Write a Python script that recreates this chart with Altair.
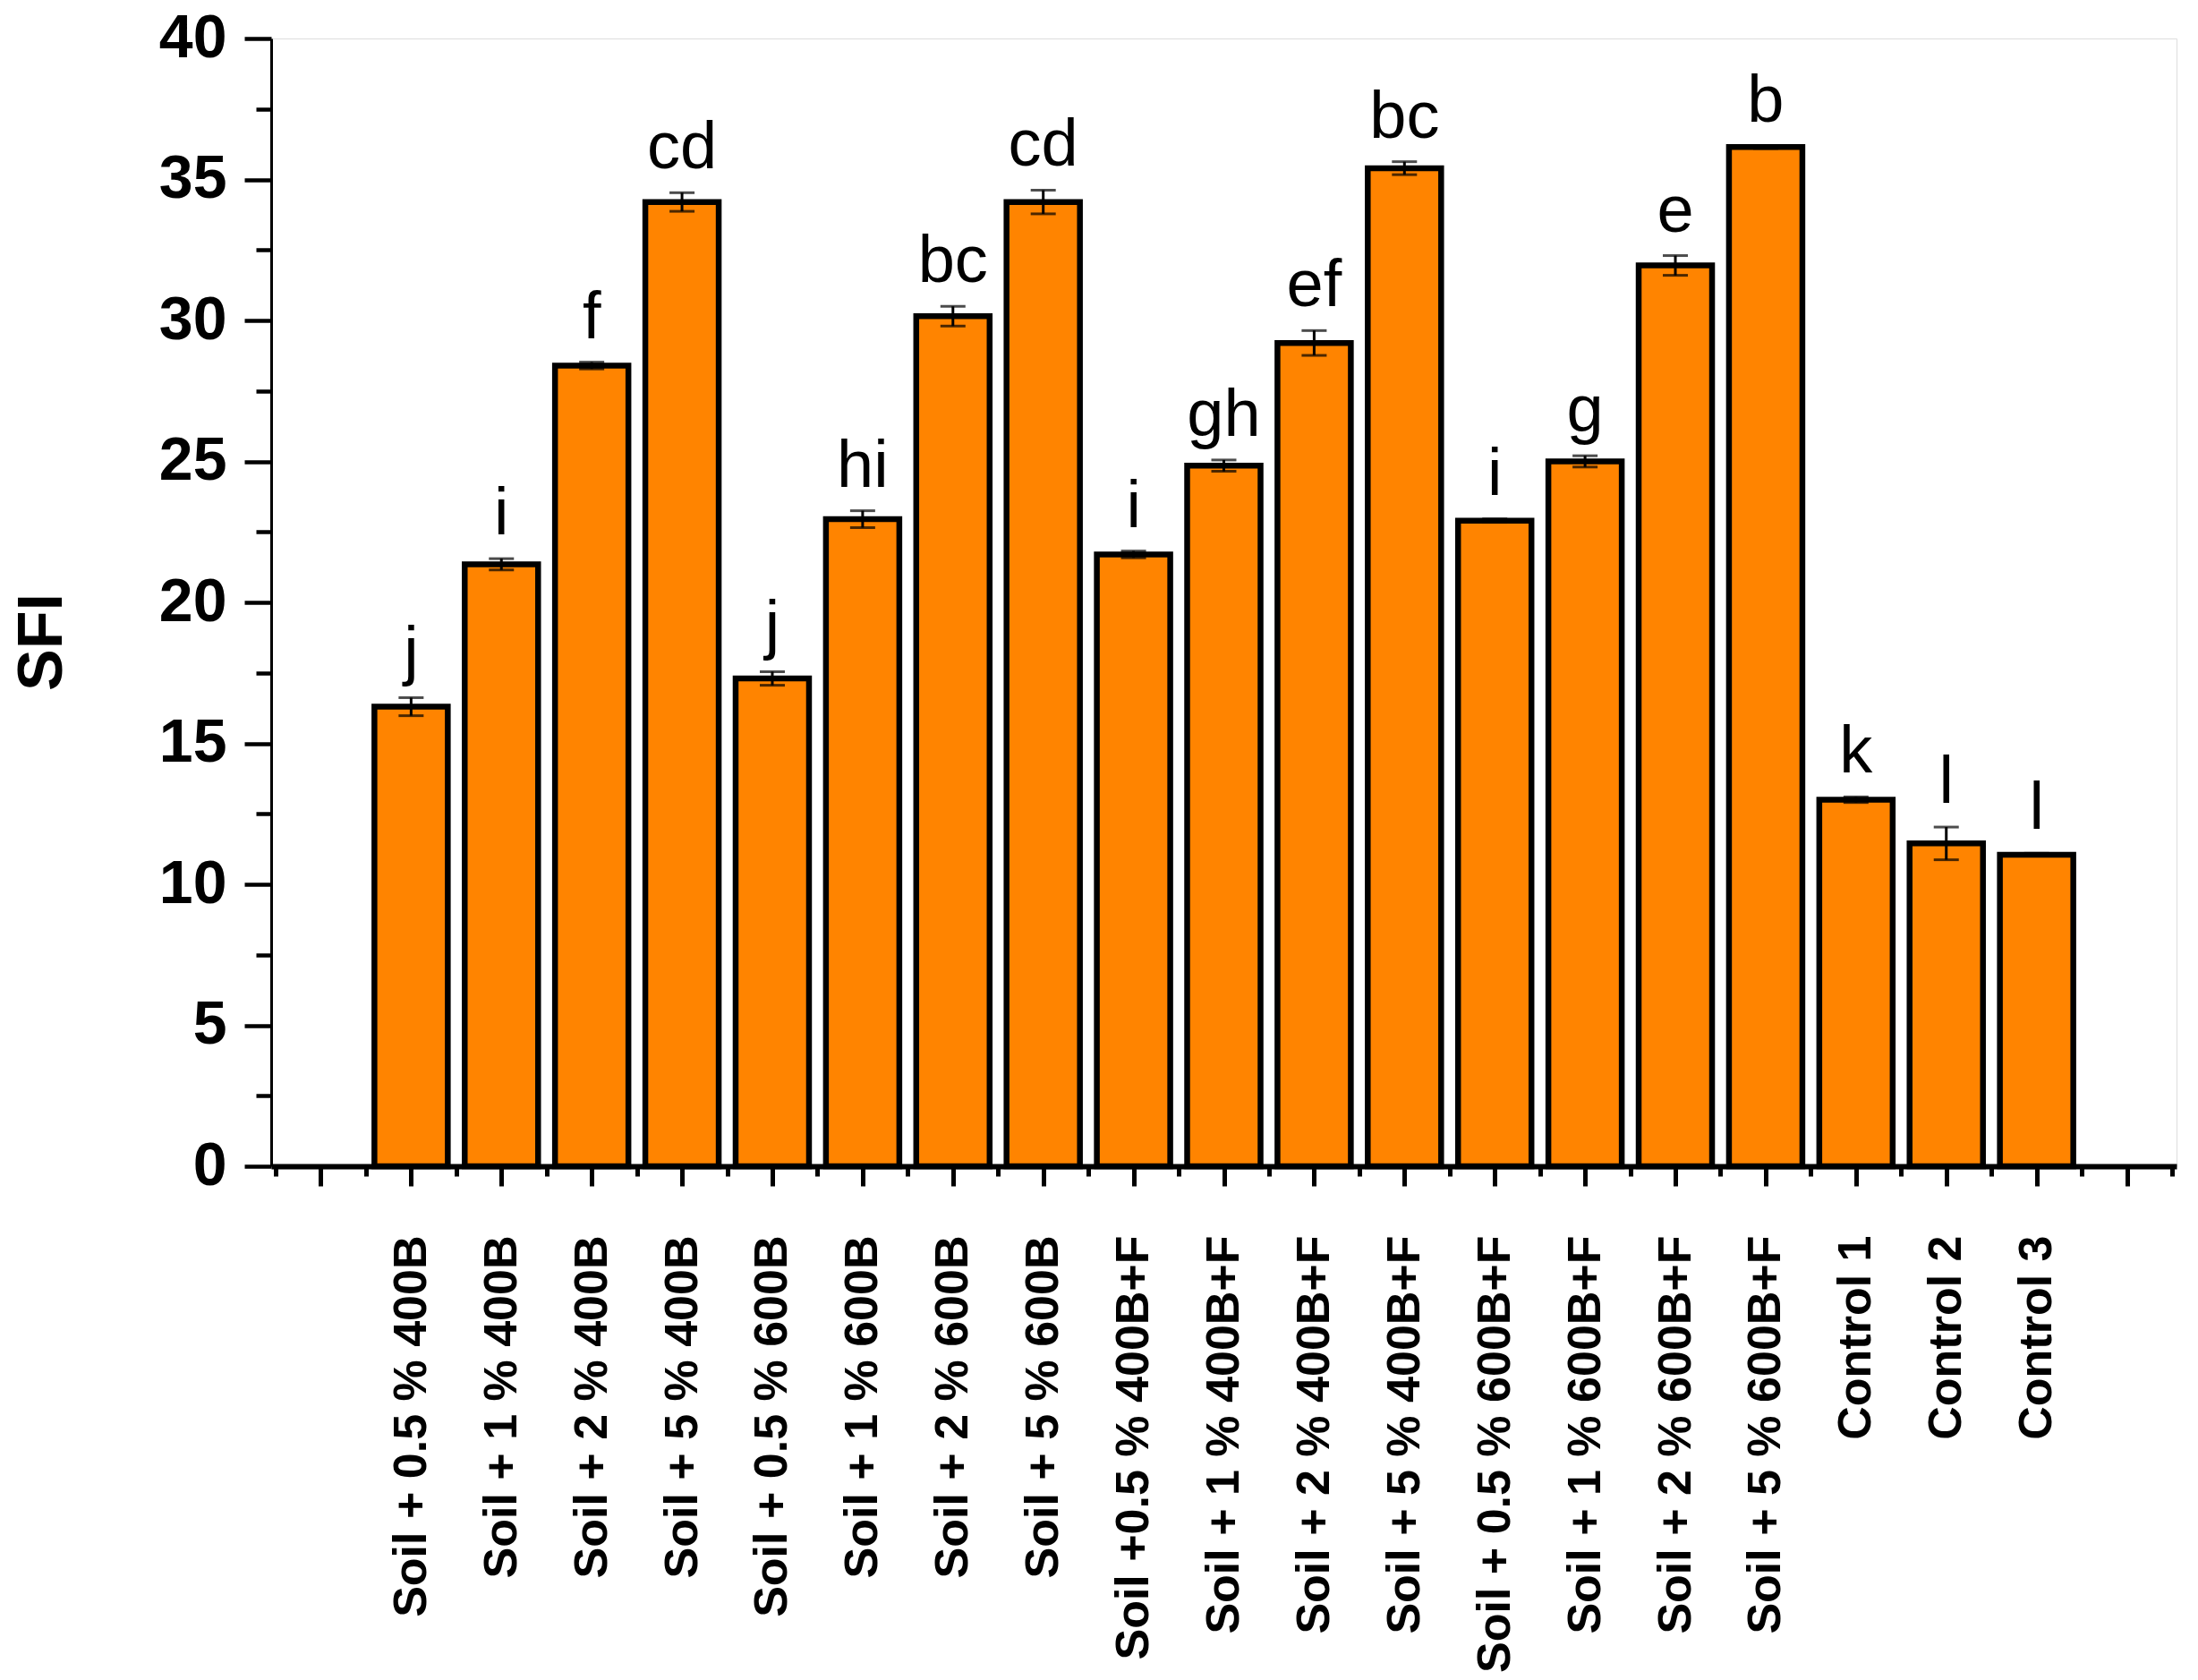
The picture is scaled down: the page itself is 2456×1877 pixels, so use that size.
import json
import altair as alt
import pandas as pd

categories = [
    "Soil + 0.5 % 400B", "Soil + 1 % 400B", "Soil + 2 % 400B", "Soil + 5 % 400B",
    "Soil + 0.5 % 600B", "Soil + 1 % 600B", "Soil + 2 % 600B", "Soil + 5 % 600B",
    "Soil +0.5 % 400B+F", "Soil + 1 % 400B+F", "Soil + 2 % 400B+F", "Soil + 5 % 400B+F",
    "Soil + 0.5 % 600B+F", "Soil + 1 % 600B+F", "Soil + 2 % 600B+F", "Soil + 5 % 600B+F",
    "Control 1", "Control 2", "Control 3",
]
sfi = [16.3, 21.35, 28.4, 34.2, 17.3, 22.95, 30.15, 34.2,
       21.7, 24.85, 29.2, 35.4, 22.9, 25.0, 31.95, 36.15,
       13.0, 11.45, 11.05]
sd = [0.32, 0.2, 0.12, 0.33, 0.24, 0.3, 0.35, 0.42,
      0.12, 0.2, 0.44, 0.23, 0.06, 0.2, 0.35, 0.05,
      0.1, 0.58, 0.05]
letters = ["j", "i", "f", "cd", "j", "hi", "bc", "cd",
           "i", "gh", "ef", "bc", "i", "g", "e", "b",
           "k", "l", "l"]

df = pd.DataFrame({
    "cat": categories,
    "pos": list(range(1, len(categories) + 1)),
    "sfi": sfi,
    "sd": sd,
    "letter": letters,
})
df["lo"] = df["sfi"] - df["sd"]
df["hi"] = df["sfi"] + df["sd"]

FONT = "Liberation Sans"
label_list = [""] + categories + [""]
label_js = json.dumps(label_list)

x_vals = [i / 2 for i in range(-1, 42)]
y_vals = [i * 2.5 for i in range(0, 17)]

x_axis = alt.Axis(
    values=x_vals,
    labelExpr=f"datum.value % 1 !== 0 ? '' : ({label_js}[datum.value] || '')",
    labelAngle=-90,
    labelFont=FONT, labelFontSize=52, labelFontWeight="bold", labelColor="black",
    labelPadding=55, labelLimit=0, labelOverlap=False, labelFlush=False,
    tickSize={"condition": {"test": "datum.value % 1 !== 0", "value": 11}, "value": 22},
    tickWidth=5, tickColor="black",
    domainWidth=6, domainColor="black",
    grid=False, title=None,
)
y_axis = alt.Axis(
    values=y_vals,
    labelExpr="datum.value % 5 === 0 ? format(datum.value, 'd') : ''",
    labelFont=FONT, labelFontSize=68, labelFontWeight="bold", labelColor="black",
    labelPadding=20, labelOverlap=False, labelFlush=False,
    tickSize={"condition": {"test": "datum.value % 5 !== 0", "value": 17}, "value": 30},
    tickWidth=4.5, tickColor="black",
    domainWidth=3, domainColor="black",
    grid=False,
    title="SFI", titleFont=FONT, titleFontSize=70, titleFontWeight="bold",
    titleColor="black", titleAngle=-90, titleX=-256, titleY=674,
    titleAlign="center", titleBaseline="middle",
)

x = alt.X("pos:Q", scale=alt.Scale(domain=[-0.5, 20.5], nice=False, zero=False), axis=x_axis)
y = alt.Y("sfi:Q", scale=alt.Scale(domain=[0, 40], nice=False), axis=y_axis)

base = alt.Chart(df)

bars = base.mark_bar(size=82, color="#FF8400", stroke="black", strokeWidth=6.5).encode(
    x=x, y=y
)
rules = base.mark_rule(color="black", strokeWidth=3).encode(
    x="pos:Q", y="lo:Q", y2="hi:Q"
)
caps = base.transform_fold(["lo", "hi"], as_=["which", "val"]).mark_tick(
    color="black", size=28, thickness=3, orient="horizontal"
).encode(x="pos:Q", y="val:Q")
text = base.mark_text(
    font=FONT, fontSize=74, color="black", baseline="alphabetic", align="center", dy=-27
).encode(x="pos:Q", y="hi:Q", text="letter:N")

chart = alt.layer(bars, rules, caps, text).properties(
    width=2129, height=1260,
    autosize=alt.AutoSizeParams(type="none"),
    padding={"left": 295, "top": 35, "right": 16, "bottom": 566},
).configure_view(stroke=None).configure(background="white")

chart.save("out.html", embed_options={"renderer": "svg", "actions": False})
